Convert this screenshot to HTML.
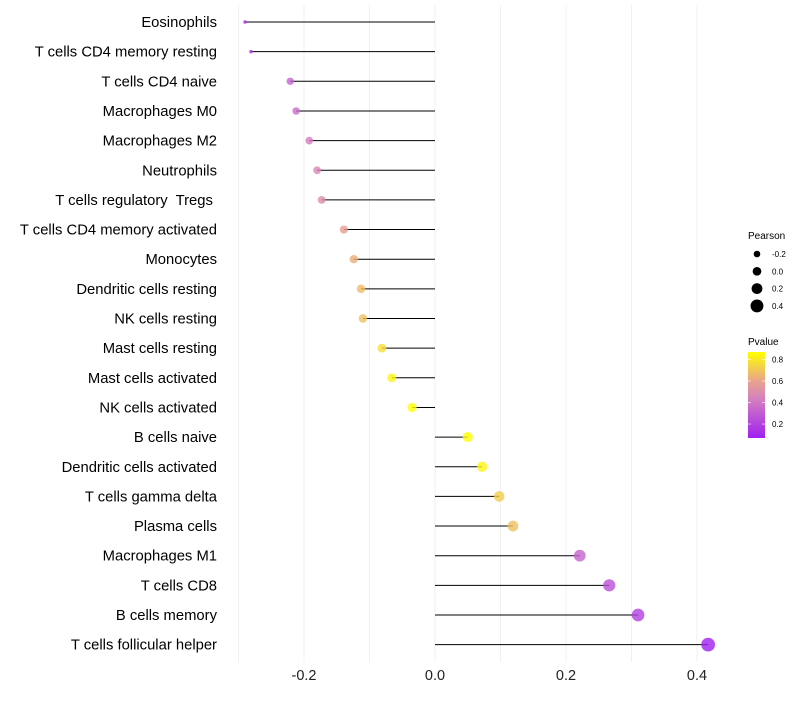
<!DOCTYPE html>
<html><head><meta charset="utf-8"><style>
body{margin:0;background:#fff;font-family:"Liberation Sans",sans-serif}
</style></head><body>
<svg id="chart" width="800" height="700" xmlns="http://www.w3.org/2000/svg" font-family="Liberation Sans, sans-serif">
<defs><linearGradient id="pg" x1="0" y1="1" x2="0" y2="0">
<stop offset="0" stop-color="#a020f0"/><stop offset="0.45" stop-color="#d47fc0"/><stop offset="0.65" stop-color="#e8a090"/><stop offset="1" stop-color="#ffff00"/></linearGradient></defs>
<g id="grid"></g>
<g id="marks"></g>
<g id="labels"></g>
<g id="xt"></g>
<g>
<text x="748" y="239" font-size="10" fill="#000">Pearson</text>
<g id="sizeleg"></g></g>
<g>
<text x="748" y="345" font-size="10" fill="#000">Pvalue</text>
<rect x="748" y="352" width="17" height="86" fill="url(#pg)"/>
<g id="cbt"></g></g>
</svg>
<script>
const categories=["Eosinophils","T cells CD4 memory resting","T cells CD4 naive","Macrophages M0","Macrophages M2","Neutrophils","T cells regulatory  Tregs ","T cells CD4 memory activated","Monocytes","Dendritic cells resting","NK cells resting","Mast cells resting","Mast cells activated","NK cells activated","B cells naive","Dendritic cells activated","T cells gamma delta","Plasma cells","Macrophages M1","T cells CD8","B cells memory","T cells follicular helper"];
const pearson=[-0.290,-0.281,-0.221,-0.212,-0.192,-0.180,-0.173,-0.139,-0.124,-0.113,-0.110,-0.081,-0.066,-0.035,0.050,0.072,0.098,0.119,0.221,0.266,0.310,0.417];
const pvalue=[0.12,0.15,0.32,0.36,0.42,0.47,0.50,0.58,0.63,0.67,0.68,0.77,0.84,0.90,0.89,0.84,0.72,0.68,0.33,0.25,0.19,0.06];
const xTicks=[-0.2,0.0,0.2,0.4];
const sizeLegend=[-0.2,0.0,0.2,0.4];
const pTicks=[0.2,0.4,0.6,0.8];
const NS="http://www.w3.org/2000/svg";
const X=v=>435+v*655;
const Y=i=>22+i*29.65;
const R=v=>Math.max(1.8,4.8+5*v-(v<-0.25?(-0.25-v)*60:0));
const PY=p=>352+(0.87-p)/0.8*86;
const stops=[[0,[160,32,240]],[0.45,[212,127,192]],[0.65,[232,160,144]],[1,[255,255,0]]];
function col(p){let t=Math.min(1,Math.max(0,(p-0.07)/0.8));for(let k=1;k<stops.length;k++){if(t<=stops[k][0]){const a=stops[k-1],b=stops[k];const u=(t-a[0])/(b[0]-a[0]);return 'rgb('+a[1].map((x,j)=>Math.round(x+(b[1][j]-x)*u))+')';}}return 'rgb(255,255,0)';}
function mk(tag,at,parent){const e=document.createElementNS(NS,tag);for(const k in at)e.setAttribute(k,at[k]);parent.appendChild(e);return e;}
const grid=document.getElementById('grid');
[-0.3,-0.2,-0.1,0,0.1,0.2,0.3,0.4].forEach(v=>{const l=mk('line',{x1:X(v),x2:X(v),y1:5,y2:662,stroke:'#f0f0f0','stroke-width':1},grid);

});
const marks=document.getElementById('marks'),labels=document.getElementById('labels');
categories.forEach((c,i)=>{
const l=mk('line',{x1:X(0),x2:X(pearson[i]),y1:Y(i),y2:Y(i),stroke:'#000','stroke-width':1},marks);


const p=mk('circle',{cx:X(pearson[i]),cy:Y(i),r:R(pearson[i]),fill:col(pvalue[i]),'fill-opacity':0.8},marks);


const t=mk('text',{x:217,y:Y(i)+5,'text-anchor':'end','font-size':14.8,fill:'#000','xml:space':'preserve',style:'white-space:pre'},labels);t.textContent=c;

});
const xt=document.getElementById('xt');
xTicks.forEach(v=>{const t=mk('text',{x:X(v),y:680,'text-anchor':'middle','font-size':14.5,fill:'#222'},xt);t.textContent=v.toFixed(1);

});
const sl=document.getElementById('sizeleg');
sizeLegend.forEach((v,i)=>{const y=254+i*17.3;
const c=mk('circle',{cx:757,cy:y,r:3.3+i*1.05,fill:'#000'},sl);


const t=mk('text',{x:772,y:y+3,'font-size':8,fill:'#000'},sl);t.textContent=v.toFixed(1);

});
const cbt=document.getElementById('cbt');
pTicks.forEach(p=>{const y=PY(p);
const l=mk('line',{x1:748,x2:751,y1:y,y2:y,stroke:'#fff','stroke-width':0.6},cbt);


const l2=mk('line',{x1:762,x2:765,y1:y,y2:y,stroke:'#fff','stroke-width':0.6},cbt);


const t=mk('text',{x:772,y:y+3,'font-size':8,fill:'#000'},cbt);t.textContent=p.toFixed(1);

});
</script>
</body></html>
